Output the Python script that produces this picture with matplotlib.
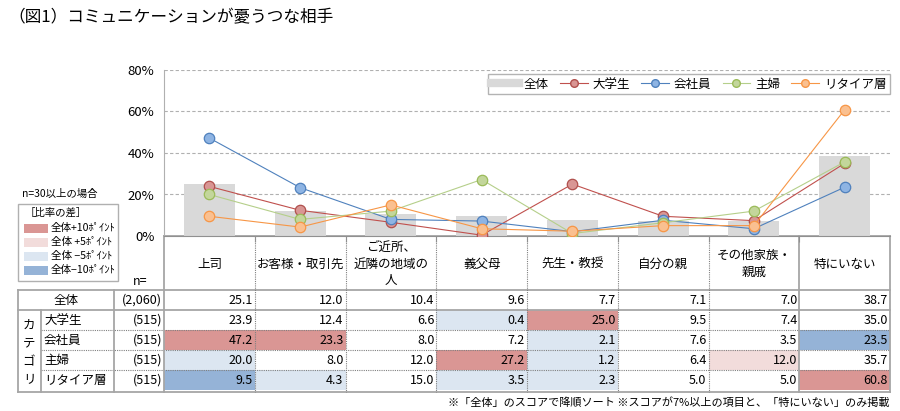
import matplotlib
matplotlib.use('Agg')
import matplotlib.pyplot as plt
from matplotlib.patches import Rectangle
from matplotlib.lines import Line2D

plt.rcParams['font.family'] = ['Noto Sans CJK JP', 'DejaVu Sans']

# data (percent)
categories = ['上司', 'お客様・取引先', 'ご近所、\n近隣の地域の\n人', '義父母', '先生・教授',
              '自分の親', 'その他家族・\n親戚', '特にいない']
overall = [25.1, 12.0, 10.4, 9.6, 7.7, 7.1, 7.0, 38.7]
overall_n = '(2,060)'
groups = ['大学生', '会社員', '主婦', 'リタイア層']
group_n = ['(515)', '(515)', '(515)', '(515)']
student = [23.9, 12.4, 6.6, 0.4, 25.0, 9.5, 7.4, 35.0]
employee = [47.2, 23.3, 8.0, 7.2, 2.1, 7.6, 3.5, 23.5]
housewife = [20.0, 8.0, 12.0, 27.2, 1.2, 6.4, 12.0, 35.7]
retired = [9.5, 4.3, 15.0, 3.5, 2.3, 5.0, 5.0, 60.8]
group_vals = [student, employee, housewife, retired]

line_col = ['#C0504D', '#4F81BD', '#B5CF8A', '#F79646']
edge_col = ['#B0504D', '#4F81BD', '#9BBB59', '#F79646']
fill_col = ['#D99694', '#8EB4E3', '#C3D69B', '#FAC090']

diff_cols = {'p10': '#DA9694', 'p5': '#F2DCDB', 'm5': '#DCE6F1', 'm10': '#95B3D7'}

W, H = 900, 411
fig = plt.figure(figsize=(9, 4.11), dpi=100)

L, R = 164, 890
Y0, Y80 = 236, 70
ax = fig.add_axes([L / W, 1 - Y0 / H, (R - L) / W, (Y0 - Y80) / H])
x = list(range(len(categories)))
ax.bar(x, [v / 100 for v in overall], width=0.56, color='#D9D9D9', zorder=2)
for vals, lc, ec, fc in zip(group_vals, line_col, edge_col, fill_col):
    ax.plot(x, [v / 100 for v in vals], color=lc, lw=0.8, marker='o', ms=7.5,
            mfc=fc, mec=ec, mew=0.9, zorder=3)
ax.set_xlim(-0.5, len(categories) - 0.5)
ax.set_ylim(0, 0.8)
ax.set_yticks([0, 0.2, 0.4, 0.6, 0.8])
ax.set_yticklabels(['0%', '20%', '40%', '60%', '80%'], fontsize=9.5)
ax.yaxis.grid(True, ls=(0, (3, 2)), color='#B0B0B0', lw=0.8)
ax.set_axisbelow(True)
ax.tick_params(axis='y', length=0, pad=7)
ax.set_xticks([i - 0.5 for i in range(1, len(categories))])
ax.set_xticklabels([])
ax.tick_params(axis='x', direction='out', length=4, color='#909090')
for s in ['top', 'right']:
    ax.spines[s].set_visible(False)
ax.spines['left'].set_color('#B0B0B0')
ax.spines['bottom'].set_color('#909090')
ax.patch.set_alpha(0)

handles = [Line2D([], [], color='#D9D9D9', lw=6)]
for lc, ec, fc in zip(line_col, edge_col, fill_col):
    handles.append(Line2D([], [], color=lc, lw=0.8, marker='o', ms=5.5, mfc=fc, mec=ec))
leg = ax.legend(handles, ['全体'] + groups, ncol=5, fontsize=9,
                loc='upper right', bbox_to_anchor=(890 / W, 1 - 74 / H),
                bbox_transform=fig.transFigure, frameon=True, fancybox=False,
                handlelength=2.2, columnspacing=0.9, handletextpad=0.4,
                borderpad=0.3, borderaxespad=0)
leg.get_frame().set_edgecolor('#A0A0A0')
leg.get_frame().set_linewidth(1.0)

# overlay in pixel coordinates for table and notes
t = fig.add_axes([0, 0, 1, 1], zorder=-1)
t.set_xlim(0, W)
t.set_ylim(H, 0)
t.axis('off')

t.text(8, 18, '（図1）コミュニケーションが憂うつな相手', fontsize=12, va='center', ha='left')

ncol = len(categories)
cw = (R - L) / ncol
edges = [L + i * cw for i in range(ncol + 1)]
row_top = [290, 310, 330, 350, 370]
row_h = 20
bottom = 392


def cell_color(v, base):
    d = round(v - base, 1)
    if d >= 10:
        return diff_cols['p10']
    if d >= 5:
        return diff_cols['p5']
    if d <= -10:
        return diff_cols['m10']
    if d <= -5:
        return diff_cols['m5']
    return None


# cell fills
for r, vals in enumerate(group_vals):
    y = row_top[r + 1]
    for c, v in enumerate(vals):
        col = cell_color(v, overall[c])
        if col:
            t.add_patch(Rectangle((edges[c], y), cw, row_h, color=col, lw=0))

# header text
for c, name in enumerate(categories):
    t.text(edges[c] + cw / 2, 264, name, ha='center', va='center', fontsize=9,
           linespacing=1.35)

# numbers
fs = 9
for c, v in enumerate(overall):
    t.text(edges[c + 1] - 2, row_top[0] + row_h / 2, f'{v:.1f}', ha='right', va='center', fontsize=fs)
for r, vals in enumerate(group_vals):
    for c, v in enumerate(vals):
        t.text(edges[c + 1] - 2, row_top[r + 1] + row_h / 2, f'{v:.1f}', ha='right',
               va='center', fontsize=fs)

# left labels
t.text(66, row_top[0] + row_h / 2, '全体', ha='center', va='center', fontsize=fs)
t.text(162, row_top[0] + row_h / 2, overall_n, ha='right', va='center', fontsize=fs)
for r, (g, n) in enumerate(zip(groups, group_n)):
    t.text(44, row_top[r + 1] + row_h / 2, g, ha='left', va='center', fontsize=fs)
    t.text(162, row_top[r + 1] + row_h / 2, n, ha='right', va='center', fontsize=fs)
for ch, yy in zip('カテゴリ', [325, 343, 362, 380]):
    t.text(29, yy, ch, ha='center', va='center', fontsize=fs)
t.text(140, 281, 'n=', ha='center', va='center', fontsize=fs)

# grid lines
solid = dict(color='#A6A6A6', lw=1.3)
dot = dict(color='#808080', lw=0.8, ls=(0, (1, 1)))
t.plot([L, R], [Y0, Y0], **solid)
t.plot([18, R], [290, 290], **solid)
t.plot([18, R], [310, 310], **solid)
t.plot([18, R], [bottom, bottom], **solid)
for y in row_top[2:]:
    t.plot([41, R], [y, y], **dot)
t.plot([18, 18], [290, bottom], **solid)
t.plot([41, 41], [310, bottom], **solid)
t.plot([114, 114], [290, bottom], **solid)
t.plot([L, L], [Y0, bottom], **solid)
t.plot([R, R], [Y0, bottom], **solid)
for c in range(1, ncol):
    if c == ncol - 1:
        t.plot([edges[c], edges[c]], [Y0, bottom], **solid)
    else:
        t.plot([edges[c], edges[c]], [Y0, bottom], **dot)

# left colour key
t.text(22, 194, 'n=30以上の場合', fontsize=7.5, ha='left', va='center')
t.add_patch(Rectangle((18, 204), 100, 77, fill=False, ec='#B0B0B0', lw=1.0))
t.text(25, 213, '［比率の差］', fontsize=7.5, ha='left', va='center')
key_labels = ['全体+10ﾎﾟｲﾝﾄ', '全体 +5ﾎﾟｲﾝﾄ', '全体 −5ﾎﾟｲﾝﾄ', '全体−10ﾎﾟｲﾝﾄ']
key_cols = [diff_cols['p10'], diff_cols['p5'], diff_cols['m5'], diff_cols['m10']]
for yy, lab, col in zip([228, 242, 256, 270], key_labels, key_cols):
    t.add_patch(Rectangle((24, yy - 4.5), 24, 9, color=col, lw=0))
    t.text(51, yy, lab, fontsize=7.6, ha='left', va='center')

t.text(R, 403, '※「全体」のスコアで降順ソート ※スコアが7%以上の項目と、「特にいない」のみ掲載',
       fontsize=8, ha='right', va='center')

fig.savefig('out.png', dpi=100)
plt.close(fig)
